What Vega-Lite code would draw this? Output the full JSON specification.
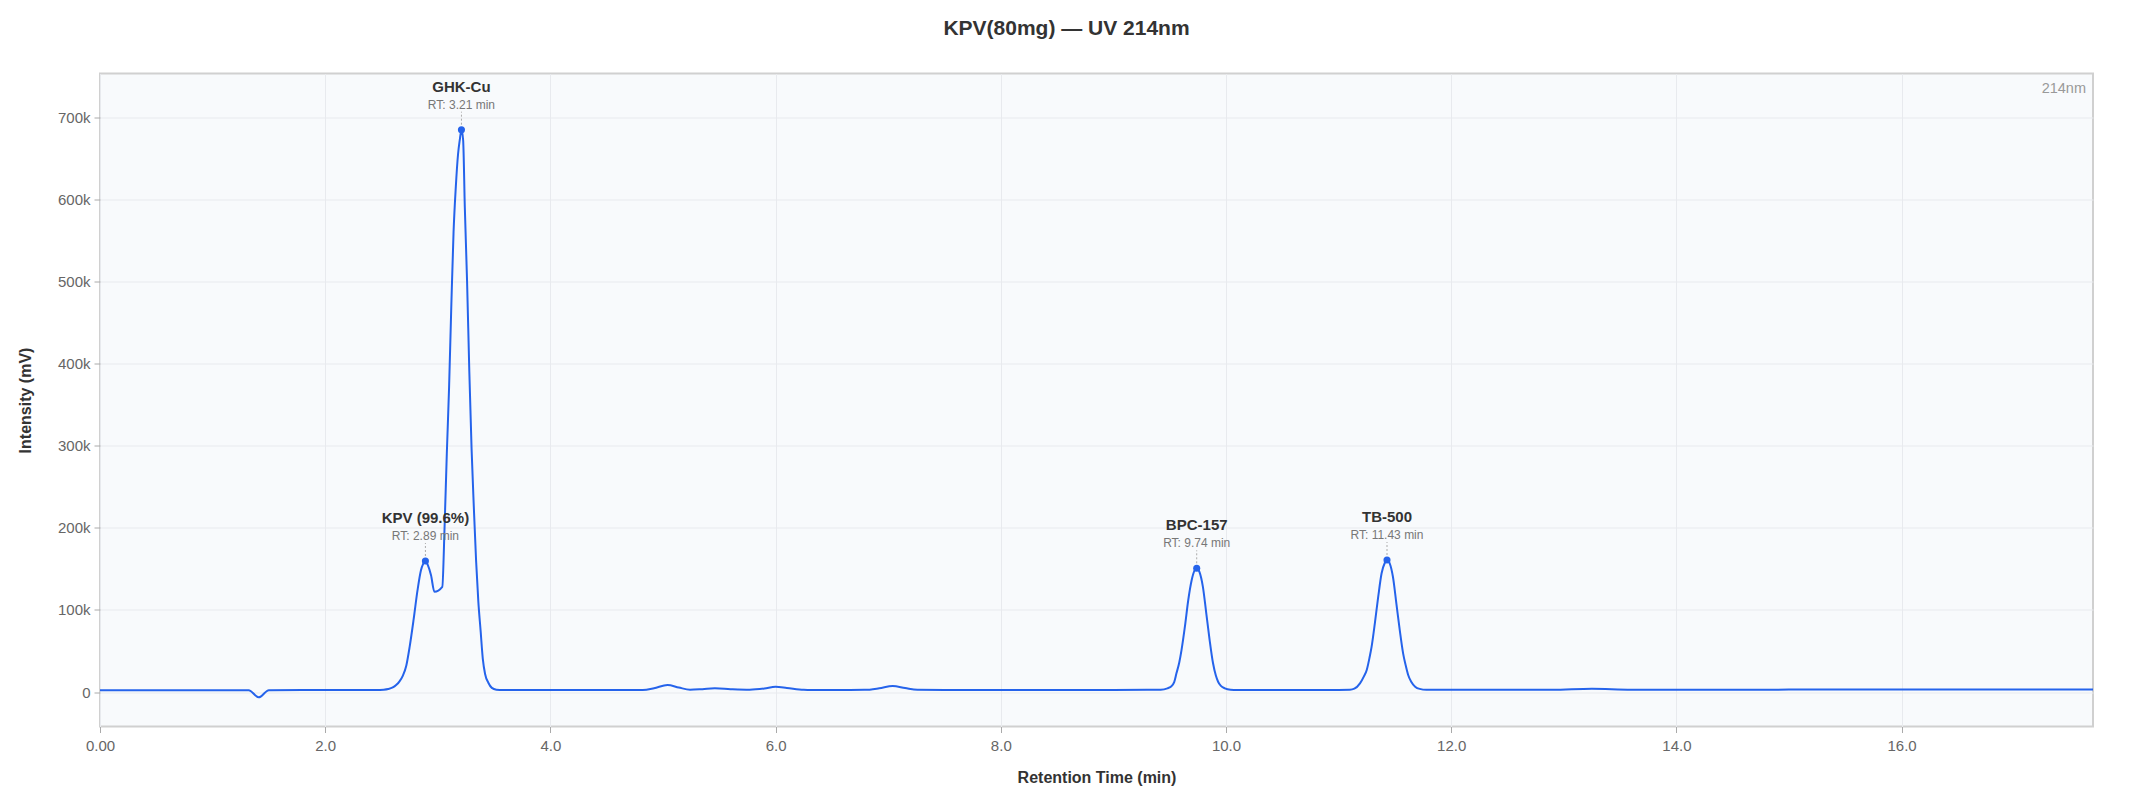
{
  "$schema": "https://vega.github.io/schema/vega-lite/v6.json",
  "width": 1993,
  "height": 653,
  "autosize": {"type": "none"},
  "padding": {"left": 100, "top": 73.5, "right": 40, "bottom": 73.5},
  "background": "white",
  "title": {
    "text": "KPV(80mg) — UV 214nm",
    "font": "Liberation Sans",
    "fontSize": 21,
    "fontWeight": "bold",
    "color": "#333333",
    "anchor": "middle",
    "offset": 35,
    "dx": -30
  },
  "datasets": {
    "trace": [
      {"time": 0.0, "intensity": 2200},
      {"time": 0.5, "intensity": 2200},
      {"time": 1.0, "intensity": 2200},
      {"time": 1.32, "intensity": 2200},
      {"time": 1.41, "intensity": -6500},
      {"time": 1.5, "intensity": 2200},
      {"time": 1.8, "intensity": 2300},
      {"time": 2.2, "intensity": 2300},
      {"time": 2.45, "intensity": 2400},
      {"time": 2.52, "intensity": 2800},
      {"time": 2.56, "intensity": 3600},
      {"time": 2.6, "intensity": 5500},
      {"time": 2.63, "intensity": 8500},
      {"time": 2.66, "intensity": 13000},
      {"time": 2.69, "intensity": 20000},
      {"time": 2.72, "intensity": 32000},
      {"time": 2.75, "intensity": 55000},
      {"time": 2.785, "intensity": 88000},
      {"time": 2.82, "intensity": 124000},
      {"time": 2.85, "intensity": 148000},
      {"time": 2.87, "intensity": 156000},
      {"time": 2.89, "intensity": 159500},
      {"time": 2.91, "intensity": 155000},
      {"time": 2.94, "intensity": 142000},
      {"time": 2.97, "intensity": 122000},
      {"time": 3.04, "intensity": 128000},
      {"time": 3.06, "intensity": 200000},
      {"time": 3.08, "intensity": 290000},
      {"time": 3.1, "intensity": 370000},
      {"time": 3.12, "intensity": 470000},
      {"time": 3.14, "intensity": 560000},
      {"time": 3.16, "intensity": 615000},
      {"time": 3.18, "intensity": 655000},
      {"time": 3.195, "intensity": 672000},
      {"time": 3.21, "intensity": 684600},
      {"time": 3.225, "intensity": 672000},
      {"time": 3.24, "intensity": 590000},
      {"time": 3.26, "intensity": 500000},
      {"time": 3.28, "intensity": 390000},
      {"time": 3.3, "intensity": 296000},
      {"time": 3.32, "intensity": 225000},
      {"time": 3.34, "intensity": 160000},
      {"time": 3.36, "intensity": 110000},
      {"time": 3.38, "intensity": 75000},
      {"time": 3.4, "intensity": 40000},
      {"time": 3.42, "intensity": 22000},
      {"time": 3.45, "intensity": 11000},
      {"time": 3.48, "intensity": 5000},
      {"time": 3.52, "intensity": 2800},
      {"time": 3.58, "intensity": 2300},
      {"time": 4.0, "intensity": 2300},
      {"time": 4.5, "intensity": 2300},
      {"time": 4.82, "intensity": 2400},
      {"time": 4.92, "intensity": 4500},
      {"time": 5.04, "intensity": 8500},
      {"time": 5.14, "intensity": 5500},
      {"time": 5.24, "intensity": 2800},
      {"time": 5.35, "intensity": 3500},
      {"time": 5.46, "intensity": 4500},
      {"time": 5.6, "intensity": 3500},
      {"time": 5.77, "intensity": 2800},
      {"time": 5.9, "intensity": 4200},
      {"time": 6.0, "intensity": 6300},
      {"time": 6.1, "intensity": 5000},
      {"time": 6.25, "intensity": 2600},
      {"time": 6.5, "intensity": 2500},
      {"time": 6.79, "intensity": 2600},
      {"time": 6.92, "intensity": 4500},
      {"time": 7.04, "intensity": 7300},
      {"time": 7.15, "intensity": 4800},
      {"time": 7.26, "intensity": 2600},
      {"time": 7.5, "intensity": 2500},
      {"time": 8.0, "intensity": 2500},
      {"time": 8.5, "intensity": 2500},
      {"time": 9.0, "intensity": 2500},
      {"time": 9.3, "intensity": 2600},
      {"time": 9.42, "intensity": 2800},
      {"time": 9.48, "intensity": 4500},
      {"time": 9.51, "intensity": 6500},
      {"time": 9.54, "intensity": 12000},
      {"time": 9.56, "intensity": 22700},
      {"time": 9.585, "intensity": 36000},
      {"time": 9.605, "intensity": 51000},
      {"time": 9.635, "intensity": 79500},
      {"time": 9.665, "intensity": 112000},
      {"time": 9.695, "intensity": 136000},
      {"time": 9.72, "intensity": 147700},
      {"time": 9.74, "intensity": 150600},
      {"time": 9.765, "intensity": 146000},
      {"time": 9.795, "intensity": 128000},
      {"time": 9.825, "intensity": 95800},
      {"time": 9.855, "intensity": 63000},
      {"time": 9.885, "intensity": 35000},
      {"time": 9.91, "intensity": 20000},
      {"time": 9.93, "intensity": 12500},
      {"time": 9.955, "intensity": 7500},
      {"time": 9.99, "intensity": 4500},
      {"time": 10.04, "intensity": 2800},
      {"time": 10.1, "intensity": 2500},
      {"time": 10.5, "intensity": 2500},
      {"time": 11.0, "intensity": 2500},
      {"time": 11.1, "intensity": 2700},
      {"time": 11.14, "intensity": 4000},
      {"time": 11.19, "intensity": 10500},
      {"time": 11.225, "intensity": 19000},
      {"time": 11.25, "intensity": 26800},
      {"time": 11.275, "intensity": 42000},
      {"time": 11.293, "intensity": 55000},
      {"time": 11.322, "intensity": 83600},
      {"time": 11.352, "intensity": 116000},
      {"time": 11.382, "intensity": 144500},
      {"time": 11.41, "intensity": 157000},
      {"time": 11.43, "intensity": 160700},
      {"time": 11.453, "intensity": 157000},
      {"time": 11.483, "intensity": 140000},
      {"time": 11.513, "intensity": 108000},
      {"time": 11.543, "intensity": 75500},
      {"time": 11.573, "intensity": 47000},
      {"time": 11.595, "intensity": 33000},
      {"time": 11.618, "intensity": 20700},
      {"time": 11.645, "intensity": 12500},
      {"time": 11.68, "intensity": 6500},
      {"time": 11.72, "intensity": 3800},
      {"time": 11.78, "intensity": 2700},
      {"time": 12.0, "intensity": 2600},
      {"time": 12.5, "intensity": 2600},
      {"time": 12.9, "intensity": 2700},
      {"time": 13.25, "intensity": 4000},
      {"time": 13.6, "intensity": 2800},
      {"time": 14.0, "intensity": 2800},
      {"time": 15.0, "intensity": 2900},
      {"time": 16.0, "intensity": 3000},
      {"time": 17.0, "intensity": 3100},
      {"time": 17.7, "intensity": 3100}
    ],
    "peaks": [
      {"name": "KPV (99.6%)", "label": "RT: 2.89 min", "rt": 2.89, "peak": 159500},
      {"name": "GHK-Cu", "label": "RT: 3.21 min", "rt": 3.21, "peak": 684600},
      {"name": "BPC-157", "label": "RT: 9.74 min", "rt": 9.74, "peak": 150600},
      {"name": "TB-500", "label": "RT: 11.43 min", "rt": 11.43, "peak": 160700}
    ]
  },
  "layer": [
    {
      "data": {"name": "trace"},
      "mark": {"type": "line", "color": "#2563eb", "strokeWidth": 2, "interpolate": "monotone"},
      "encoding": {
        "x": {
          "field": "time",
          "type": "quantitative",
          "title": "Retention Time (min)",
          "scale": {"domain": [0, 17.7], "nice": false, "zero": false},
          "axis": {
            "values": [0, 2, 4, 6, 8, 10, 12, 14, 16],
            "labelExpr": "datum.value == 0 ? '0.00' : format(datum.value, '.1f')",
            "labelFlush": false,
            "labelPadding": 6,
            "titlePadding": 16
          }
        },
        "y": {
          "field": "intensity",
          "type": "quantitative",
          "title": "Intensity (mV)",
          "scale": {"domain": [-42000, 753000], "nice": false, "zero": false},
          "axis": {
            "values": [0, 100000, 200000, 300000, 400000, 500000, 600000, 700000],
            "labelExpr": "datum.value == 0 ? '0' : format(datum.value / 1000, 'd') + 'k'",
            "labelFlush": false,
            "labelPadding": 4,
            "titlePadding": 24
          }
        }
      }
    },
    {
      "data": {"name": "peaks"},
      "mark": {"type": "rule", "color": "#aaaaaa", "strokeWidth": 1, "strokeDash": [2, 2], "yOffset": -5, "y2Offset": -18},
      "encoding": {
        "x": {"field": "rt", "type": "quantitative", "title": "Retention Time (min)"},
        "y": {"field": "peak", "type": "quantitative", "title": "Intensity (mV)"},
        "y2": {"field": "peak"}
      }
    },
    {
      "data": {"name": "peaks"},
      "mark": {"type": "point", "filled": true, "opacity": 1, "color": "#2563eb", "size": 50},
      "encoding": {
        "x": {"field": "rt", "type": "quantitative", "title": "Retention Time (min)"},
        "y": {"field": "peak", "type": "quantitative", "title": "Intensity (mV)"}
      }
    },
    {
      "data": {"name": "peaks"},
      "mark": {"type": "text", "font": "Liberation Sans", "fontSize": 15, "fontWeight": "bold", "color": "#333333", "align": "center", "baseline": "alphabetic", "dy": -38},
      "encoding": {
        "x": {"field": "rt", "type": "quantitative", "title": "Retention Time (min)"},
        "y": {"field": "peak", "type": "quantitative", "title": "Intensity (mV)"},
        "text": {"field": "name"}
      }
    },
    {
      "data": {"name": "peaks"},
      "mark": {"type": "text", "font": "Liberation Sans", "fontSize": 12, "color": "#777777", "align": "center", "baseline": "alphabetic", "dy": -21},
      "encoding": {
        "x": {"field": "rt", "type": "quantitative", "title": "Retention Time (min)"},
        "y": {"field": "peak", "type": "quantitative", "title": "Intensity (mV)"},
        "text": {"field": "label"}
      }
    },
    {
      "data": {"values": [{"wave": "214nm"}]},
      "mark": {"type": "text", "font": "Liberation Sans", "fontSize": 14.5, "color": "#999999", "align": "right", "baseline": "alphabetic", "dx": -7, "dy": 19},
      "encoding": {
        "x": {"datum": 17.7, "type": "quantitative", "title": "Retention Time (min)"},
        "y": {"datum": 753000, "type": "quantitative", "title": "Intensity (mV)"},
        "text": {"field": "wave"}
      }
    }
  ],
  "config": {
    "view": {"fill": "#f8fafc", "stroke": "#d0d0d0", "strokeWidth": 2},
    "axis": {
      "domain": false,
      "labelFont": "Liberation Sans",
      "labelFontSize": 15,
      "labelColor": "#666666",
      "titleFont": "Liberation Sans",
      "titleFontSize": 16,
      "titleFontWeight": "bold",
      "titleColor": "#333333",
      "tickColor": "#aaaaaa",
      "tickSize": 6,
      "gridColor": "#e8eaee",
      "gridWidth": 1
    }
  }
}
